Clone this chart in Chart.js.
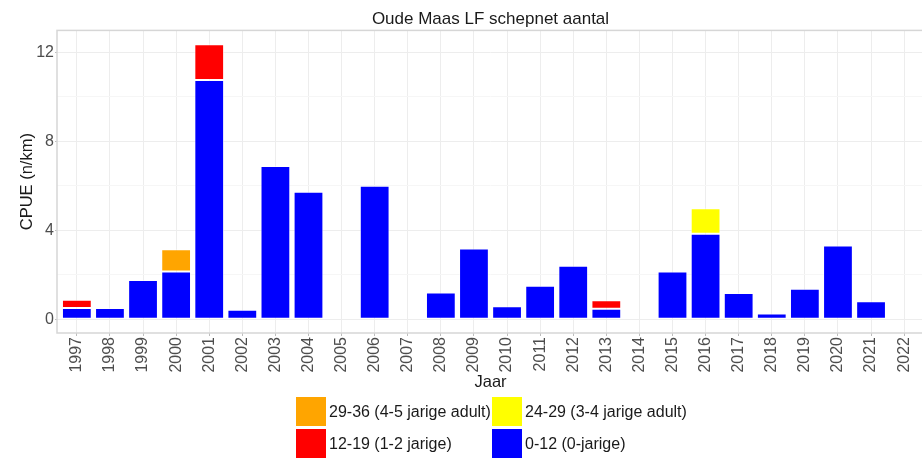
<!DOCTYPE html>
<html>
<head>
<meta charset="utf-8">
<script src="https://cdn.jsdelivr.net/npm/chart.js@4"></script>
<style>
  html, body { margin: 0; padding: 0; background: #fff; overflow: hidden; }
  #wrap { position: relative; width: 930px; height: 458px; }
  #legend { position: absolute; left: 0; top: 0; width: 930px; height: 458px; pointer-events: none;
            font-family: "Liberation Sans", Arial, sans-serif; font-size: 16px; color: #1a1a1a; }
  .key { position: absolute; width: 30px; height: 29px; }
  .lab { position: absolute; line-height: 29px; white-space: nowrap; }
</style>
</head>
<body>
<div id="wrap">
  <canvas id="c" width="930" height="458"></canvas>
  <div id="legend"></div>
</div>
<script>
// ---- data ----
const years = [1997,1998,1999,2000,2001,2002,2003,2004,2005,2006,2007,2008,2009,2010,2011,2012,2013,2014,2015,2016,2017,2018,2019,2020,2021,2022];
const cpue_0_12  = [0.50,0.51,1.76,2.15,10.75,0.43,6.88,5.73,0,6.00,0,1.20,3.18,0.58,1.51,2.40,0.47,0,2.15,3.84,1.18,0.26,1.37,3.31,0.81,0];
const cpue_12_19 = [0.38,0,0,0,1.61,0,0,0,0,0,0,0,0,0,0,0,0.38,0,0,0,0,0,0,0,0,0];
const cpue_24_29 = [0,0,0,0,0,0,0,0,0,0,0,0,0,0,0,0,0,0,0,1.15,0,0,0,0,0,0];
const cpue_29_36 = [0,0,0,1.00,0,0,0,0,0,0,0,0,0,0,0,0,0,0,0,0,0,0,0,0,0,0];
const yTicks = [0,2,4,6,8,10,12];
const seriesNames = ["0-12 (0-jarige)", "12-19 (1-2 jarige)", "24-29 (3-4 jarige adult)", "29-36 (4-5 jarige adult)"];
const seriesColors = ["#0000FF", "#FF0000", "#FFFF00", "#FFA500"];
const title = "Oude Maas LF schepnet aantal";
const xTitle = "Jaar";
const yTitle = "CPUE (n/km)";

const seriesValues = [cpue_0_12, cpue_12_19, cpue_24_29, cpue_29_36];
const FONT = '"Liberation Sans", Arial, sans-serif';

const datasets = seriesValues.map((vals, i) => ({
  label: seriesNames[i],
  data: years.map((yr, j) => ({ x: yr, y: vals[j] > 0 ? vals[j] : null })),
  backgroundColor: seriesColors[i],
  borderColor: 'rgba(255,255,255,0.55)',
  borderWidth: 1,
  borderSkipped: false,
  barPercentage: 0.9,
  categoryPercentage: 1.0
}));

const panelBorder = {
  id: 'panelBorder',
  beforeDatasetsDraw(chart) {
    const a = chart.chartArea, ctx = chart.ctx;
    ctx.save();
    ctx.strokeStyle = '#d6d6d6';
    ctx.lineWidth = 1.5;
    ctx.strokeRect(a.left, a.top, a.right - a.left, a.bottom - a.top);
    ctx.restore();
  }
};

new Chart(document.getElementById('c'), {
  type: 'bar',
  data: { datasets },
  plugins: [panelBorder],
  options: {
    responsive: false,
    devicePixelRatio: 1,
    animation: false,
    layout: { padding: { left: 0, right: 6, top: 0, bottom: 62 } },
    plugins: {
      legend: { display: false },
      tooltip: { enabled: false },
      title: {
        display: true, text: title, fullSize: false,
        color: '#1a1a1a', font: { family: FONT, size: 17, weight: 'normal' },
        padding: { top: 9, bottom: 1 }
      }
    },
    scales: {
      x: {
        type: 'linear', stacked: true, offset: false,
        min: years[0] - 0.6, max: years[years.length - 1] + 0.6,
        afterBuildTicks(s) { s.ticks = years.map(v => ({ value: v })); },
        afterFit(s) { s.height = 63; },
        border: { display: false },
        grid: { offset: false, color: '#ededed', lineWidth: 1, tickLength: 3, tickColor: '#bdbdbd' },
        ticks: {
          autoSkip: false, maxRotation: 90, minRotation: 90, padding: 1,
          color: '#4d4d4d', font: { family: FONT, size: 16 },
          callback: v => String(v)
        },
        title: { display: true, text: xTitle, color: '#1a1a1a',
                 font: { family: FONT, size: 16.5 }, padding: { top: 0, bottom: 4 } }
      },
      y: {
        stacked: true,
        min: -0.618, max: 12.978,
        afterBuildTicks(s) { s.ticks = yTicks.map(v => ({ value: v })); },
        afterFit(s) { s.width = 57; },
        border: { display: false },
        grid: {
          color: c => (c.tick && c.tick.value % 4 === 0) ? '#ededed' : '#f6f6f6',
          tickColor: c => (c.tick && c.tick.value % 4 === 0) ? '#bdbdbd' : 'rgba(0,0,0,0)',
          lineWidth: 1, tickLength: 2
        },
        ticks: {
          padding: 1, color: '#4d4d4d', font: { family: FONT, size: 16 },
          callback: v => (v % 4 === 0 ? String(v) : '')
        },
        title: { display: true, text: yTitle, color: '#1a1a1a',
                 font: { family: FONT, size: 16.5 }, padding: { top: 18, bottom: 0 } }
      }
    }
  }
});

// ---- legend (2 x 2, as in the reference) ----
const legendLayout = [
  { s: 3, left: 296, top: 397 }, { s: 2, left: 492, top: 397 },
  { s: 1, left: 296, top: 429 }, { s: 0, left: 492, top: 429 }
];
const lg = document.getElementById('legend');
legendLayout.forEach(it => {
  const k = document.createElement('div');
  k.className = 'key';
  k.style.left = it.left + 'px'; k.style.top = it.top + 'px';
  k.style.background = seriesColors[it.s];
  lg.appendChild(k);
  const t = document.createElement('div');
  t.className = 'lab';
  t.style.left = (it.left + 33) + 'px'; t.style.top = it.top + 'px';
  t.textContent = seriesNames[it.s];
  lg.appendChild(t);
});
</script>
</body>
</html>
